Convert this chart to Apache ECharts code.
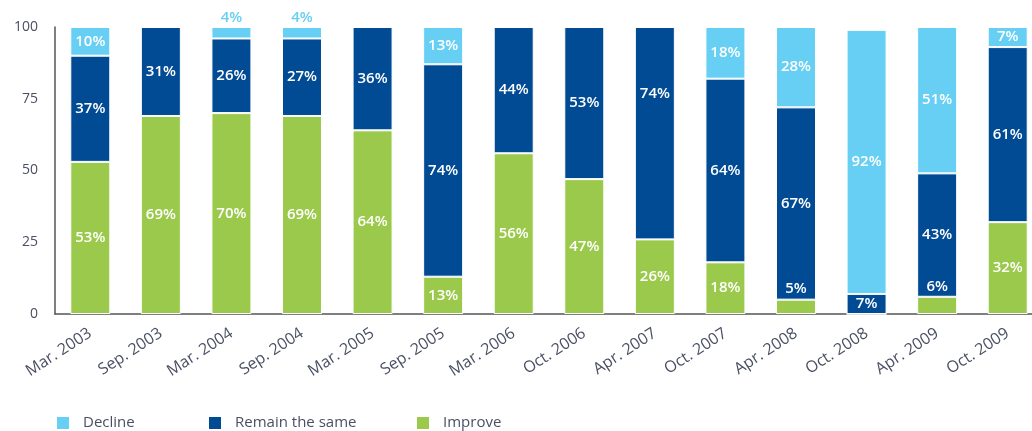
<!DOCTYPE html>
<html>
<head>
<meta charset="utf-8">
<script src="https://cdn.jsdelivr.net/npm/echarts@6/dist/echarts.min.js"></script>
<style>
html,body{margin:0;padding:0;background:#fff;}
#chart{width:1032px;height:431px;}
</style>
</head>
<body>
<div id="chart"></div>
<script>
var categories = ['Mar. 2003','Sep. 2003','Mar. 2004','Sep. 2004','Mar. 2005','Sep. 2005','Mar. 2006','Oct. 2006','Apr. 2007','Oct. 2007','Apr. 2008','Oct. 2008','Apr. 2009','Oct. 2009'];
var improve = [53, 69, 70, 69, 64, 13, 56, 47, 26, 18, 5, 0, 6, 32];
var remain  = [37, 31, 26, 27, 36, 74, 44, 53, 74, 64, 67, 7, 43, 61];
var decline = [10, 0, 4, 4, 0, 13, 0, 0, 0, 18, 28, 92, 51, 7];
var yTicks = [0, 25, 50, 75, 100];

var COLORS = { decline: '#66CFF3', remain: '#004B93', improve: '#9BC94B' };
var FONT = '"Open Sans", "Noto Sans", sans-serif';

function buildData(values, kind) {
  return values.map(function (v, i) {
    var item = { value: v };
    if (v > 0 && v < 7 && kind === 'decline') {
      item.label = { position: 'top', color: COLORS.decline, distance: 2 };
    }
    if (v > 0 && v < 7 && kind === 'improve') {
      item.label = { position: 'top', color: '#fff', distance: 3 };
    }
    if (kind === 'remain' && categories[i] === 'Apr. 2007') {
      item.label = { offset: [0, -39] };
    }
    return item;
  });
}

function series(name, kind, values) {
  return {
    name: name,
    type: 'bar',
    stack: 'total',
    barWidth: 40,
    data: buildData(values, kind),
    itemStyle: { color: COLORS[kind], borderColor: '#fff', borderWidth: 1 },
    label: {
      show: true,
      position: 'inside',
      color: '#fff',
      fontFamily: FONT,
      fontWeight: 600,
      fontSize: 15,
      formatter: function (p) { return p.value > 0 ? p.value + '%' : ''; }
    },
    emphasis: { disabled: true }
  };
}

function legend(name, left) {
  return {
    data: [name],
    left: left,
    top: 415,
    padding: 0,
    itemWidth: 14,
    itemHeight: 14,
    icon: 'rect',
    textStyle: { fontFamily: FONT, fontSize: 15, color: '#4a4f63', padding: [0, 0, 0, 8] }
  };
}

var chart = echarts.init(document.getElementById('chart'), null, { renderer: 'canvas' });
chart.setOption({
  animation: false,
  grid: { left: 55, width: 988, top: 27, bottom: 117, containLabel: false, outerBoundsMode: 'none' },
  legend: [legend('Decline', 55), legend('Remain the same', 207), legend('Improve', 415)],
  xAxis: {
    type: 'category',
    data: categories,
    axisLine: { lineStyle: { color: '#555', width: 1.5 } },
    axisTick: { show: false },
    axisLabel: { rotate: 33, margin: 18, fontFamily: FONT, fontSize: 16, color: '#4a4f63', interval: 0 }
  },
  yAxis: {
    type: 'value',
    min: yTicks[0],
    max: yTicks[yTicks.length - 1],
    interval: yTicks[1] - yTicks[0],
    axisLine: { show: true, lineStyle: { color: '#555', width: 1.5 } },
    axisTick: { show: false },
    splitLine: { show: false },
    axisLabel: { margin: 17, fontFamily: FONT, fontSize: 14, color: '#4a4f63' }
  },
  series: [
    series('Improve', 'improve', improve),
    series('Remain the same', 'remain', remain),
    series('Decline', 'decline', decline)
  ]
});
</script>
</body>
</html>
